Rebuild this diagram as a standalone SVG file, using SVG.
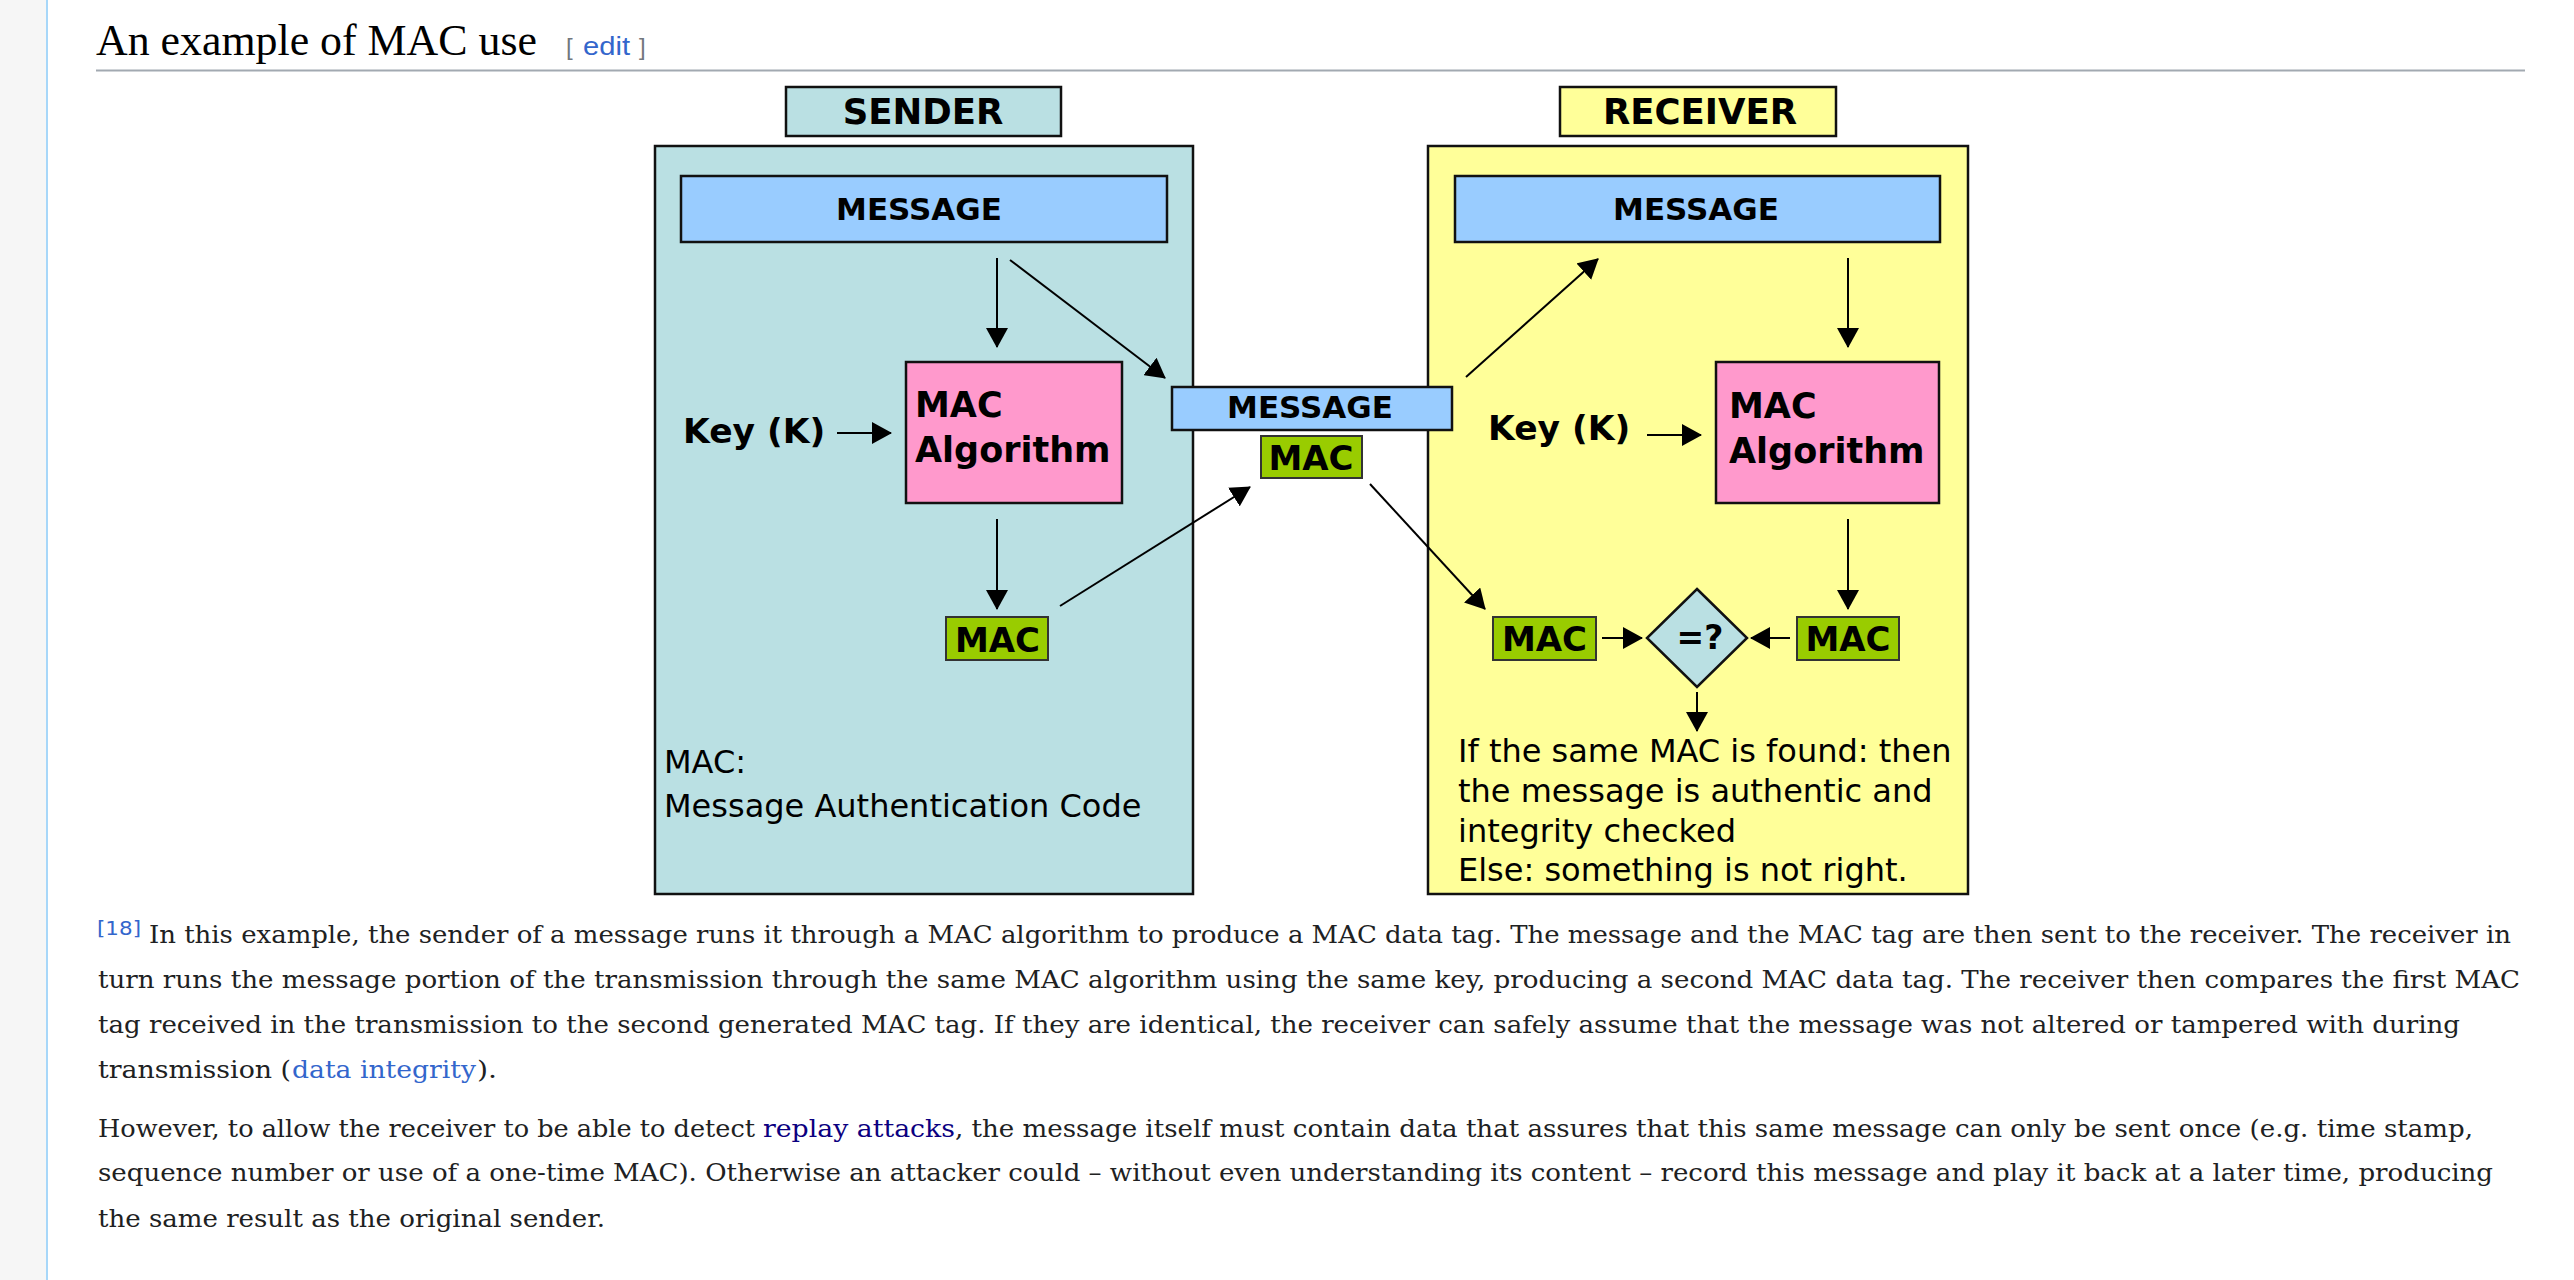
<svg xmlns="http://www.w3.org/2000/svg" width="2574" height="1280" viewBox="0 0 2574 1280">
<style>
.lbl{font-family:"DejaVu Sans",sans-serif;font-weight:bold;fill:#000;}
.reg{font-family:"DejaVu Sans",sans-serif;font-size:32px;fill:#000;}
.body{font-family:"DejaVu Serif",serif;font-size:24px;fill:#202122;}
.link{fill:#3366cc;}
.vlink{fill:#0b0080;}
.teal{fill:#bae0e3;stroke:#111;stroke-width:2.5;}
.yel{fill:#ffff99;stroke:#111;stroke-width:2.5;}
.msg{fill:#99ccff;stroke:#111;stroke-width:2.5;}
.alg{fill:#ff99cc;stroke:#111;stroke-width:2.5;}
.tag{fill:#99cc00;stroke:#333;stroke-width:2;}
.conn line{stroke:#000;stroke-width:2;marker-end:url(#ah);}
</style>
<defs>
<marker id="ah" markerUnits="userSpaceOnUse" viewBox="0 0 20 22" markerWidth="20" markerHeight="22" refX="19" refY="11" orient="auto">
<path d="M0,0 L20,11 L0,22 z" fill="#000"/>
</marker>
</defs>
<rect x="0" y="0" width="2574" height="1280" fill="#ffffff"/>
<rect x="0" y="0" width="46" height="1280" fill="#f6f6f6"/>
<rect x="46" y="0" width="2" height="1280" fill="#a7d7f9"/>

<g id="heading">
<text x="96" y="55" font-family="Liberation Serif, serif" font-size="45" fill="#000" textLength="441" lengthAdjust="spacingAndGlyphs">An example of MAC use</text>
<text x="566" y="55" font-family="Liberation Sans, sans-serif" font-size="24" fill="#72777d">[</text>
<text x="583" y="55" font-family="Liberation Sans, sans-serif" font-size="25" fill="#3366cc" textLength="47" lengthAdjust="spacingAndGlyphs">edit</text>
<text x="639" y="55" font-family="Liberation Sans, sans-serif" font-size="24" fill="#72777d">]</text>
<rect x="96" y="69.5" width="2429" height="2" fill="#a2a9b1"/>
</g>

<g id="sender">
<rect class="teal" x="655" y="146" width="538" height="748"/>
<text class="reg" x="664" y="773">MAC:</text>
<text class="reg" x="664" y="817">Message Authentication Code</text>
</g>
<g id="sender-title">
<rect class="teal" x="786" y="87" width="275" height="49"/>
<text class="lbl" x="923" y="124" font-size="35.5" text-anchor="middle">SENDER</text>
</g>
<g id="sender-message">
<rect class="msg" x="681" y="176" width="486" height="66"/>
<text class="lbl" x="919" y="220" font-size="31" text-anchor="middle">MESSAGE</text>
</g>
<g id="sender-key">
<text class="lbl" x="683" y="443" font-size="34.5">Key (K)</text>
</g>
<g id="sender-algorithm">
<rect class="alg" x="906" y="362" width="216" height="141"/>
<text class="lbl" x="915" y="417" font-size="35">MAC</text>
<text class="lbl" x="915" y="462" font-size="35">Algorithm</text>
</g>
<g id="sender-mac">
<rect class="tag" x="946" y="617" width="102" height="43"/>
<text class="lbl" x="997.5" y="652" font-size="34" text-anchor="middle">MAC</text>
</g>

<g id="receiver">
<rect class="yel" x="1428" y="146" width="540" height="748"/>
<text class="reg" x="1458" y="762">If the same MAC is found: then</text>
<text class="reg" x="1458" y="802">the message is authentic and</text>
<text class="reg" x="1458" y="842">integrity checked</text>
<text class="reg" x="1458" y="881">Else: something is not right.</text>
</g>
<g id="receiver-title">
<rect class="yel" x="1560" y="87" width="276" height="49"/>
<text class="lbl" x="1700" y="124" font-size="35.5" text-anchor="middle">RECEIVER</text>
</g>
<g id="receiver-message">
<rect class="msg" x="1455" y="176" width="485" height="66"/>
<text class="lbl" x="1696" y="220" font-size="31" text-anchor="middle">MESSAGE</text>
</g>
<g id="receiver-key">
<text class="lbl" x="1488" y="440" font-size="34.5">Key (K)</text>
</g>
<g id="receiver-algorithm">
<rect class="alg" x="1716" y="362" width="223" height="141"/>
<text class="lbl" x="1729" y="418" font-size="35">MAC</text>
<text class="lbl" x="1729" y="463" font-size="35">Algorithm</text>
</g>
<g id="receiver-mac-received">
<rect class="tag" x="1493" y="617" width="103" height="43"/>
<text class="lbl" x="1544.5" y="651" font-size="34" text-anchor="middle">MAC</text>
</g>
<g id="receiver-mac-computed">
<rect class="tag" x="1797" y="617" width="102" height="43"/>
<text class="lbl" x="1848" y="651" font-size="34" text-anchor="middle">MAC</text>
</g>
<g id="compare">
<polygon points="1697,589 1747,638 1697,687 1647,638" fill="#bae0e3" stroke="#111" stroke-width="2.5"/>
<text class="lbl" x="1700" y="649" font-size="33" text-anchor="middle">=?</text>
</g>

<g id="transmitted-message">
<rect class="msg" x="1172" y="387" width="280" height="43"/>
<text class="lbl" x="1310" y="418" font-size="31" text-anchor="middle">MESSAGE</text>
</g>
<g id="transmitted-mac">
<rect class="tag" x="1261" y="436" width="101" height="42"/>
<text class="lbl" x="1311" y="470" font-size="34" text-anchor="middle">MAC</text>
</g>

<g id="connectors" class="conn">
<line x1="997" y1="258" x2="997" y2="347"/>
<line x1="1010" y1="260" x2="1165" y2="378"/>
<line x1="837" y1="433" x2="891" y2="433"/>
<line x1="997" y1="519" x2="997" y2="609"/>
<line x1="1060" y1="606" x2="1250" y2="487"/>
<line x1="1466" y1="377" x2="1598" y2="259"/>
<line x1="1848" y1="258" x2="1848" y2="347"/>
<line x1="1647" y1="435" x2="1701" y2="435"/>
<line x1="1370" y1="484" x2="1485" y2="609"/>
<line x1="1848" y1="519" x2="1848" y2="609"/>
<line x1="1602" y1="638" x2="1642" y2="638"/>
<line x1="1790" y1="638" x2="1751" y2="638"/>
<line x1="1697" y1="692" x2="1697" y2="731"/>
</g>

<g id="caption">
<text x="97" y="935" font-family="DejaVu Sans, sans-serif" font-size="19" class="link" textLength="44" lengthAdjust="spacingAndGlyphs">[18]</text>
<text class="body" x="149" y="943" textLength="2362" lengthAdjust="spacingAndGlyphs">In this example, the sender of a message runs it through a MAC algorithm to produce a MAC data tag. The message and the MAC tag are then sent to the receiver. The receiver in</text>
<text class="body" x="98" y="988" textLength="2422" lengthAdjust="spacingAndGlyphs">turn runs the message portion of the transmission through the same MAC algorithm using the same key, producing a second MAC data tag. The receiver then compares the first MAC</text>
<text class="body" x="98" y="1033" textLength="2362" lengthAdjust="spacingAndGlyphs">tag received in the transmission to the second generated MAC tag. If they are identical, the receiver can safely assume that the message was not altered or tampered with during</text>
<text class="body" x="98" y="1078" textLength="193" lengthAdjust="spacingAndGlyphs">transmission (</text>
<text class="body link" x="292" y="1078" textLength="184" lengthAdjust="spacingAndGlyphs">data integrity</text>
<text class="body" x="477" y="1078" textLength="20" lengthAdjust="spacingAndGlyphs">).</text>
<text class="body" x="98" y="1137" textLength="657" lengthAdjust="spacingAndGlyphs">However, to allow the receiver to be able to detect</text>
<text class="body vlink" x="763" y="1137" textLength="192" lengthAdjust="spacingAndGlyphs">replay attacks</text>
<text class="body" x="955" y="1137" textLength="1518" lengthAdjust="spacingAndGlyphs">, the message itself must contain data that assures that this same message can only be sent once (e.g. time stamp,</text>
<text class="body" x="98" y="1181" textLength="2395" lengthAdjust="spacingAndGlyphs">sequence number or use of a one-time MAC). Otherwise an attacker could – without even understanding its content – record this message and play it back at a later time, producing</text>
<text class="body" x="98" y="1227" textLength="507" lengthAdjust="spacingAndGlyphs">the same result as the original sender.</text>
</g>
</svg>
